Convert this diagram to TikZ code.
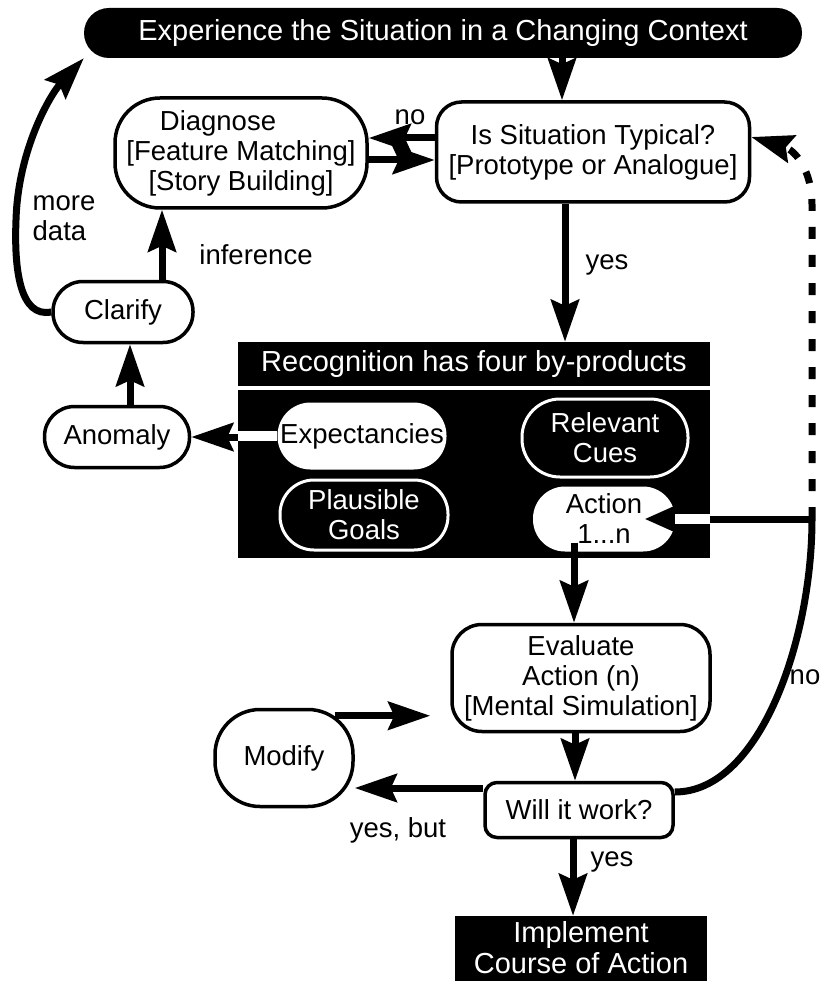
\documentclass[tikz,border=0pt]{standalone}
\usepackage{fontspec}
\setmainfont{Liberation Sans}
\usetikzlibrary{arrows.meta}

\begin{document}
\begin{tikzpicture}[x=1pt, y=-1pt,
    every node/.style={font=\fontsize{27.5}{30}\selectfont, align=center, inner sep=0pt},
    pill/.style={draw, line width=3.5pt, fill=white, rounded corners=#1},
    pill/.default=30pt,
    dark/.style={fill=black, text=white, font=\fontsize{29}{31}\selectfont},
    darkpill/.style={draw=white, line width=3pt, fill=black, text=white, rounded corners=#1},
    arr/.style={line width=7pt, -{Stealth[length=42pt, width=28pt, inset=6pt]}}]
    \useasboundingbox (0,0) rectangle (820,981);
    \node[dark, rounded corners=25pt, minimum width=718pt, minimum height=50pt] (banner) at (443,33) {Experience the Situation in a Changing Context};
    \node[pill=25pt, minimum width=313pt, minimum height=100pt] (typical) at (593,152) {Is Situation Typical?\\{[}Prototype or Analogue{]}};
    \node[pill=45pt, minimum width=252pt, minimum height=110pt] (diagnose) at (241,153) {Diagnose\hspace*{46pt}\\{[}Feature Matching{]}\\{[}Story Building{]}};
    \node[pill, minimum width=140pt, minimum height=61pt] (clarify) at (123,312) {Clarify};
    \node[pill, minimum width=145pt, minimum height=61pt] (anomaly) at (117,437) {Anomaly};
    \node[dark, minimum width=472pt, minimum height=44pt] (recog) at (474,364) {Recognition has four by-products};
    \node[fill=black, minimum width=472pt, minimum height=168pt] (body) at (474,474) {};
    \node[fill=white, rounded corners=33pt, minimum width=169pt, minimum height=67pt] (expect) at (362,436) {Expectancies};
    \node[darkpill=38pt, minimum width=166pt, minimum height=78pt] (cues) at (605,438) {Relevant\\Cues};
    \node[darkpill=34pt, minimum width=168pt, minimum height=70pt] (goals) at (364,515) {Plausible\\Goals};
    \node[fill=white, rounded corners=32pt, minimum width=142pt, minimum height=65pt] (action) at (604,519) {Action\\1...n};
    \fill[black] ([shift={(8pt,17pt)}]action.east) -- ([xshift=-30pt]action.east) -- ([shift={(8pt,-17pt)}]action.east) -- cycle;
    \node[pill, minimum width=258pt, minimum height=107pt] (evaluate) at (581,678) {Evaluate\\Action (n)\\{[}Mental Simulation{]}};
    \node[pill=12pt, minimum width=188pt, minimum height=55pt] (work) at (579,810) {Will it work?};
    \node[pill=45pt, minimum width=138pt, minimum height=97pt] (modify) at (284,758) {Modify};
    \node[dark, minimum width=252pt, minimum height=68pt, text depth=6pt] (implement) at (581,950) {Implement\\Course of Action};
    \node (no1) at (410,117) {no};
    \node[align=left] (moredata) at (64,218) {more\\data};
    \node (inference) at (256,255) {inference};
    \node (yes1) at (607,265) {yes};
    \node (no2) at (805,677) {no};
    \node (yesbut) at (398,830) {yes, but};
    \node (yes2) at (612,862) {yes};
    \coordinate (back) at (812,519);
    \draw[white, line width=10pt] (expect.west) -- (expect.west -| body.west);
    \draw[white, line width=10pt] (action.east) -- (action.east -| body.east);
    \draw[line width=7pt] (action.east -| body.east) -- (back);
    \draw[line width=7pt] ([yshift=18pt]work.east) .. controls (760,792) and (812,640) .. (back);
    \draw[arr, dash pattern=on 12pt off 16pt] (back) -- (812,205) .. controls (812,170) and (795,150) .. ([yshift=15pt]typical.east);
    \draw[arr] ([xshift=-31pt]typical.north |- banner.south) -- ([xshift=-31pt]typical.north);
    \draw[arr] ([yshift=14pt]typical.west) -- ([yshift=14pt]typical.west -| diagnose.east);
    \draw[arr] ([yshift=-7pt]diagnose.east) -- ([yshift=-7pt]diagnose.east -| typical.west);
    \draw[arr] ([xshift=-28pt]typical.south) -- ([xshift=-28pt]typical.south |- recog.north);
    \draw[arr] ([xshift=39pt]clarify.north) -- ([xshift=39pt]clarify.north |- diagnose.south);
    \draw[arr] ([xshift=13pt]anomaly.north) -- ([xshift=13pt]anomaly.north |- clarify.south);
    \draw[arr] (clarify.west) .. controls (20,318) and (14,270) .. (16,220) .. controls (18,150) and (50,95) .. (banner.south west);
    \draw[arr] (anomaly.east -| body.west) -- (anomaly.east);
    \draw[arr] ([xshift=-30pt,yshift=9pt]action.south) -- ([xshift=-30pt]action.south |- evaluate.north);
    \draw[arr] ([xshift=-6pt]evaluate.south) -- ([xshift=-6pt]evaluate.south |- work.north);
    \draw[arr] ([xshift=-6pt]work.south) -- ([xshift=-6pt]work.south |- implement.north);
    \draw[arr] ([xshift=-20pt,yshift=-8pt]modify.north east) -- ([xshift=-20pt,yshift=-8pt]modify.north east -| evaluate.west);
    \draw[arr] ([yshift=22pt]work.west) -- ([yshift=22pt]work.west -| modify.east);
\end{tikzpicture}
\end{document}
